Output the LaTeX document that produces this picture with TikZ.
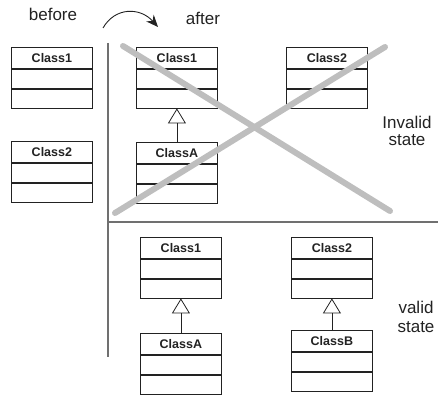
\documentclass[tikz,border=0pt]{standalone}
\usepackage{fontspec}
\setmainfont{Liberation Sans}
\usetikzlibrary{arrows.meta}
\definecolor{crossgray}{HTML}{BEBEBE}
\definecolor{rulegray}{HTML}{707070}
\definecolor{inkgray}{HTML}{222222}

\tikzset{
  hdr/.style={draw=inkgray, line width=0.8pt, minimum width=81pt, minimum height=21pt,
    inner sep=0pt, font=\fontsize{12.5}{13}\selectfont\bfseries, text=inkgray},
  cell/.style={draw=inkgray, line width=0.8pt, minimum width=81pt, minimum height=19pt, inner sep=0pt},
  inherits/.style={draw=inkgray, line width=0.8pt,
    -{Triangle[open, length=15pt, width=18pt, line width=0.8pt]}},
  divider/.style={draw=rulegray, line width=1.3pt},
  crossout/.style={draw=crossgray, line width=6pt, line cap=round},
  label/.style={font=\fontsize{17}{18}\selectfont, text=inkgray, inner sep=0pt},
}

% a UML class: header node plus two empty compartments
\newcommand\umlclass[4]{%
  \node[hdr, anchor=north west] (#1) at (#2,#3) {#4};
  \node[cell, anchor=north] (#1-a) at (#1.south) {};
  \node[cell, anchor=north] (#1-b) at (#1-a.south) {};
}

\begin{document}
\begin{tikzpicture}[x=1pt, y=-1pt]
  \useasboundingbox (0,0) rectangle (438,395);

  % before
  \umlclass{bc1}{11}{47}{Class1}
  \umlclass{bc2}{11}{141}{Class2}

  % after: invalid arrangement
  \umlclass{ic1}{136}{47}{Class1}
  \umlclass{ica}{136}{142}{ClassA}
  \umlclass{ic2}{286}{47}{Class2}
  \draw[inherits] (ica.north) -- (ic1-b.south);

  % after: valid arrangement
  \umlclass{vc1}{140}{237}{Class1}
  \umlclass{vca}{140}{333}{ClassA}
  \umlclass{vc2}{291}{237}{Class2}
  \umlclass{vcb}{291}{330}{ClassB}
  \draw[inherits] (vca.north) -- (vc1-b.south);
  \draw[inherits] (vcb.north) -- (vc2-b.south);

  % separating rules
  \coordinate (vtop) at (108,43);
  \coordinate (vbot) at (108,357);
  \coordinate (hl) at (108,222);
  \coordinate (hr) at (438,222);
  \draw[divider] (vtop) -- (vbot);
  \draw[divider] (hl) -- (hr);

  % crossing out the invalid state
  \coordinate (xa1) at (123,46);
  \coordinate (xa2) at (390,211);
  \coordinate (xb1) at (385,47);
  \coordinate (xb2) at (115,213);
  \draw[crossout] (xa1) -- (xa2);
  \draw[crossout] (xb1) -- (xb2);

  % headings
  \node[label, anchor=base] (before) at (53,21) {before};
  \node[label, anchor=base] (after) at (203,25) {after};
  \coordinate (arcs) at (103,28);
  \coordinate (arce) at (158,27);
  \draw[line width=0.9pt, draw=inkgray, -{Stealth[length=12pt, width=10pt]}]
    (arcs) .. controls (115,7) and (140,7) .. (arce);

  \node[label, align=center] (inv) at (407,131) {Invalid\\[-1pt]state};
  \node[label, align=center] (val) at (416,317) {valid\\[1pt]state};
\end{tikzpicture}
\end{document}
